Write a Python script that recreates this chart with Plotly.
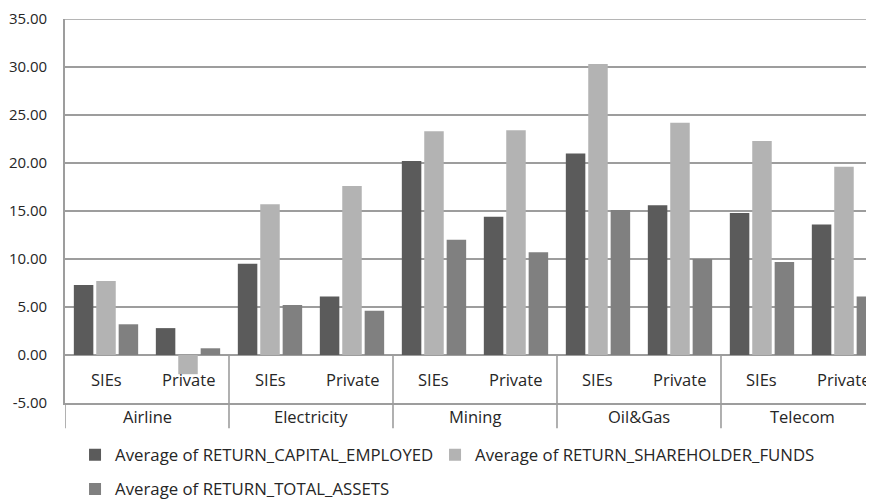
import plotly.graph_objects as go

# ---- data ----
groups = ["Airline", "Electricity", "Mining", "Oil&Gas", "Telecom"]
subgroups = ["SIEs", "Private"]
series_names = [
    "Average of RETURN_CAPITAL_EMPLOYED",
    "Average of RETURN_SHAREHOLDER_FUNDS",
    "Average of RETURN_TOTAL_ASSETS",
]
capital_employed = [7.3, 2.8, 9.5, 6.1, 20.2, 14.4, 21.0, 15.6, 14.8, 13.6]
shareholder_funds = [7.7, -2.0, 15.7, 17.6, 23.3, 23.4, 30.3, 24.2, 22.3, 19.6]
total_assets = [3.2, 0.7, 5.2, 4.6, 12.0, 10.7, 15.1, 10.0, 9.7, 6.1]
y_ticks = [-5, 0, 5, 10, 15, 20, 25, 30, 35]

colors = ["#5b5b5b", "#b3b3b3", "#808080"]
FONT = "Open Sans"
TXT = "#262626"
GRID = "#9d9d9d"
LW = 1.6
FS = 16.5
LFS = 16.8

# category positions
cats = [(g, s) for g in groups for s in subgroups]
xpos = list(range(len(cats)))

fig = go.Figure()
for name, vals, col, leg in zip(series_names,
                                [capital_employed, shareholder_funds, total_assets],
                                colors, ["legend", "legend2", "legend3"]):
    fig.add_trace(go.Bar(x=xpos, y=vals, name=name, marker_color=col,
                         marker_line_width=0, legend=leg))

annotations = []
# sub-category labels in the band between 0 and -5
for i, (g, s) in enumerate(cats):
    annotations.append(dict(x=i, y=-2.5, xref="x", yref="y", text=s,
                            showarrow=False, font=dict(family=FONT, size=FS, color=TXT)))
# group labels below the plot
n_sub = len(subgroups)
for k, g in enumerate(groups):
    center = k * n_sub + (n_sub - 1) / 2
    annotations.append(dict(x=center, y=-0.034, xref="x", yref="paper", text=g,
                            showarrow=False, yanchor="middle",
                            font=dict(family=FONT, size=FS, color=TXT)))

shapes = []
# top gridline (at the upper end of the value range)
shapes.append(dict(type="line", xref="paper", yref="y", x0=0, x1=1,
                   y0=y_ticks[-1], y1=y_ticks[-1], layer="below",
                   line=dict(color=GRID, width=LW)))
# group separators from the 0 line down through label rows
for k in range(1, len(groups)):
    xb = k * n_sub - 0.5
    shapes.append(dict(type="line", xref="x", yref="paper", x0=xb, x1=xb,
                       y0=5 / 40, y1=-0.066, line=dict(color=GRID, width=LW)))
# left axis extension below plot
shapes.append(dict(type="line", xref="x", yref="paper", x0=-0.5, x1=-0.5,
                   y0=0, y1=-0.066, line=dict(color=GRID, width=LW)))

leg_common = dict(orientation="h", xanchor="left", yanchor="middle",
                  font=dict(family=FONT, size=LFS, color=TXT), bgcolor="rgba(0,0,0,0)")

fig.update_layout(
    width=866, height=491,
    margin=dict(l=57, r=0, t=11, b=96, autoexpand=False),
    paper_bgcolor="white", plot_bgcolor="white",
    barmode="group", bargap=0.18, bargroupgap=0.13,
    font=dict(family=FONT, size=FS, color=TXT),
    xaxis=dict(range=[-0.5, 9.366], showticklabels=False, showgrid=False,
               zeroline=False, showline=True, linecolor=GRID, linewidth=LW,
               ticks=""),
    yaxis=dict(range=[-5, 35], tickvals=y_ticks,
               ticktext=[f"{v:.2f}" for v in y_ticks],
               showgrid=True, gridcolor=GRID, gridwidth=LW,
               zeroline=True, zerolinecolor=GRID, zerolinewidth=LW,
               showline=True, linecolor=GRID, linewidth=LW,
               ticks="", ticklabelstandoff=13, ticklabeloverflow="allow",
               tickfont=dict(family=FONT, size=15, color=TXT)),
    legend=dict(x=0.0124, y=-0.135, **leg_common),
    legend2=dict(x=0.4574, y=-0.135, **leg_common),
    legend3=dict(x=0.0124, y=-0.224, **leg_common),
    annotations=annotations,
    shapes=shapes,
    showlegend=True,
)

fig.write_html("out.html")
